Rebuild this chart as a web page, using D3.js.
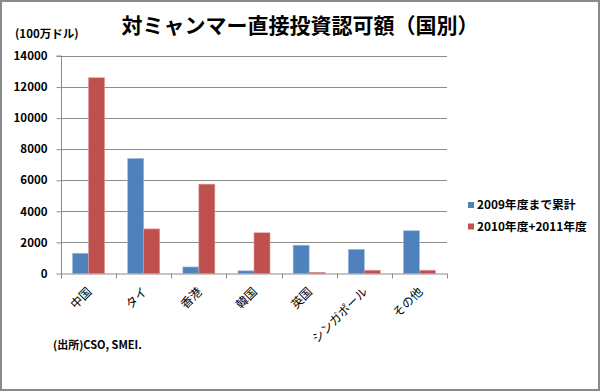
<!DOCTYPE html>
<html><head><meta charset="utf-8">
<script src="https://cdn.jsdelivr.net/npm/d3@7"></script>
<style>
body{margin:0;background:#fff;}
text{font-family:"Noto Sans CJK JP","Noto Sans",sans-serif;}
</style></head>
<body><svg id="c" width="600" height="391"></svg>
<script>
const categories = ["中国","タイ","香港","韓国","英国","シンガポール","その他"];
const seriesNames = ["2009年度まで累計","2010年度+2011年度"];
const values2009 = [1300, 7400, 420, 170, 1820, 1550, 2750];
const values2010_11 = [12600, 2870, 5750, 2620, 80, 210, 210];
const yTicks = [0,2000,4000,6000,8000,10000,12000,14000];
const colors = ["#4F81BD","#C0504D"];
const titleText = "対ミャンマー直接投資認可額（国別）";
const unitText = "(100万ドル)";
const sourceText = "(出所)CSO, SMEI.";

const svg = d3.select("#c");
svg.append("rect").attr("x",1).attr("y",1).attr("width",598).attr("height",389)
  .attr("fill","#fff").attr("stroke","#8a8a8a").attr("stroke-width",2);

const L=61, R=447, T=56, B=273.5;
const x = d3.scaleBand().domain(categories).range([L,R]).padding(0);
const bw = x.bandwidth();
const x1 = d3.scaleBand().domain(seriesNames).range([bw*0.21, bw*0.79]).padding(0);
const y = d3.scaleLinear().domain([0,14000]).range([B,T]);

// gridlines
svg.append("g").selectAll("line").data(yTicks.filter(d=>d>0)).join("line")
  .attr("x1",L).attr("x2",R).attr("y1",d=>Math.round(y(d))+0.5).attr("y2",d=>Math.round(y(d))+0.5)
  .attr("stroke","#8c8c8c").attr("stroke-width",1);

// y axis
const ya = svg.append("g").attr("transform",`translate(${L+0.5},0)`)
  .call(d3.axisLeft(y).tickValues(yTicks).tickSize(5).tickPadding(9).tickFormat(d3.format("d")));
ya.select(".domain").attr("stroke","#8c8c8c").attr("d",`M-5,${T}H0V${B}`);
ya.selectAll(".tick line").attr("stroke","#8c8c8c");
ya.selectAll(".tick text").attr("font-size","11.5px").attr("font-weight","bold").attr("fill","#000")
  .style("font-family",'"Noto Sans CJK JP",sans-serif');

// bars
const data = categories.map((c,i)=>({c, v:[values2009[i], values2010_11[i]]}));
const g = svg.append("g");
data.forEach(d=>{
  seriesNames.forEach((s,j)=>{
    g.append("rect")
      .attr("x", x(d.c)+x1(s)).attr("width", x1.bandwidth())
      .attr("y", y(d.v[j])).attr("height", B - y(d.v[j]))
      .attr("fill", colors[j]).attr("stroke", j===0?"#9bb7dc":"#dc9a98").attr("stroke-width",0.6);
  });
});

// x axis line & ticks
svg.append("line").attr("x1",L).attr("x2",R).attr("y1",B+0.5).attr("y2",B+0.5)
  .attr("stroke","#8c8c8c");
const bounds = categories.map(c=>x(c)).concat([x(categories[categories.length-1])+bw]);
svg.append("g").selectAll("line").data(bounds).join("line")
  .attr("x1",d=>Math.round(d)+0.5).attr("x2",d=>Math.round(d)+0.5).attr("y1",B).attr("y2",B+5)
  .attr("stroke","#8c8c8c");

// x labels
svg.append("g").selectAll("text").data(categories).join("text")
  .attr("transform",d=>`translate(${x(d)+bw/2+1},${B+16}) rotate(-45)`)
  .attr("text-anchor","end").attr("dy","0.35em")
  .attr("font-size","12px").attr("fill","#000").text(d=>d);

// title
svg.append("text").attr("x",300).attr("y",33).attr("text-anchor","middle")
  .attr("font-size","21px").attr("font-weight","bold").attr("fill","#000").text(titleText);
svg.append("text").attr("x",15).attr("y",38).attr("font-size","11.5px").attr("font-weight","bold")
  .attr("fill","#000").text(unitText);

// legend
const lg = svg.append("g");
seriesNames.forEach((s,j)=>{
  const cy = 205 + j*21.5;
  lg.append("rect").attr("x",468).attr("y",cy-3).attr("width",6).attr("height",6).attr("fill",colors[j]);
  lg.append("text").attr("x",477).attr("y",cy).attr("dy","0.36em").attr("font-size","11.8px")
    .attr("font-weight","bold").attr("fill","#000").text(s);
});

// source
svg.append("text").attr("x",53).attr("y",349).attr("font-size","11px").attr("font-weight","bold")
  .attr("fill","#000").text(sourceText);
</script></body></html>
